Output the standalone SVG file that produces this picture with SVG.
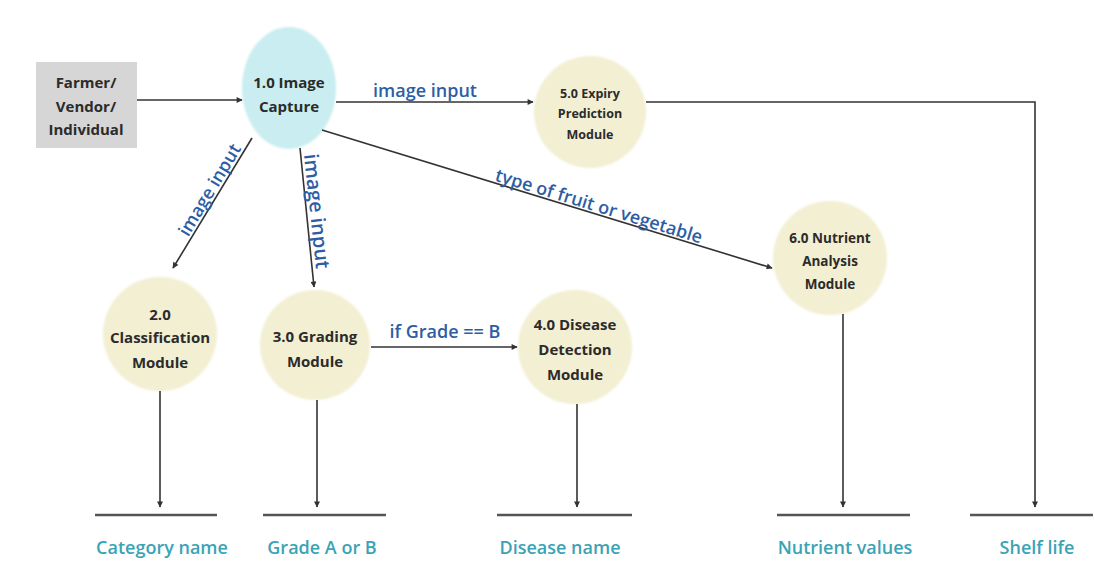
<svg xmlns="http://www.w3.org/2000/svg" width="1094" height="570" viewBox="0 0 1094 570">
<defs>
<marker id="ah" viewBox="0 0 10 10" refX="9" refY="5" markerWidth="7" markerHeight="6" orient="auto" markerUnits="userSpaceOnUse">
<path d="M0,0 L10,5 L0,10 z" fill="#333"/>
</marker>
<filter id="soft" x="-10%" y="-10%" width="120%" height="120%"><feGaussianBlur stdDeviation="1.2"/></filter>
</defs>
<style>
.node{fill:#f3efd3;filter:url(#soft)}
.cap{fill:#c9edf0;filter:url(#soft)}
.ext{fill:#d6d6d6}
.nt{font-family:"Open Sans",sans-serif;font-weight:700;font-size:15px;fill:#2b2b2b;text-anchor:middle}
.sm{font-size:12.5px}
.md{font-size:13.5px}
.lbl{font-family:"Open Sans",sans-serif;font-weight:600;font-size:18px;fill:#2d5ea5;text-anchor:middle}
.out{font-family:"Open Sans",sans-serif;font-weight:600;font-size:18px;fill:#3aa3b5;text-anchor:middle}
.ln{stroke:#333;stroke-width:1.6;fill:none}
.bar{stroke:#555;stroke-width:2.5}
</style>
<rect width="1094" height="570" fill="#ffffff"/>

<g id="farmer">
<rect class="ext" x="36" y="62" width="101" height="86"/>
<text class="nt" x="86" y="88">Farmer/</text>
<text class="nt" x="86" y="112">Vendor/</text>
<text class="nt" x="86" y="135">Individual</text>
</g>

<g id="n1">
<ellipse class="cap" cx="289" cy="88" rx="47" ry="61"/>
<text class="nt" x="289" y="88">1.0 Image</text>
<text class="nt" x="289" y="112">Capture</text>
</g>

<g id="n5">
<circle class="node" cx="590" cy="112" r="56"/>
<text class="nt sm" x="590" y="98">5.0 Expiry</text>
<text class="nt sm" x="590" y="118">Prediction</text>
<text class="nt sm" x="590" y="139">Module</text>
</g>

<g id="n2">
<circle class="node" cx="160" cy="334" r="57"/>
<text class="nt" x="160" y="320">2.0</text>
<text class="nt" x="160" y="343">Classification</text>
<text class="nt" x="160" y="368">Module</text>
</g>

<g id="n3">
<circle class="node" cx="315" cy="345" r="55"/>
<text class="nt" x="315" y="342">3.0 Grading</text>
<text class="nt" x="315" y="367">Module</text>
</g>

<g id="n4">
<circle class="node" cx="575" cy="347" r="57"/>
<text class="nt" x="575" y="330">4.0 Disease</text>
<text class="nt" x="575" y="355">Detection</text>
<text class="nt" x="575" y="380">Module</text>
</g>

<g id="n6">
<circle class="node" cx="830" cy="258" r="57"/>
<text class="nt md" x="830" y="243">6.0 Nutrient</text>
<text class="nt md" x="830" y="266">Analysis</text>
<text class="nt md" x="830" y="289">Module</text>
</g>

<g id="outputs">
<line class="bar" x1="95" y1="515" x2="217" y2="515"/>
<text class="out" x="162" y="554">Category name</text>
<line class="bar" x1="263" y1="515" x2="386" y2="515"/>
<text class="out" x="322" y="554">Grade A or B</text>
<line class="bar" x1="497" y1="515" x2="632" y2="515"/>
<text class="out" x="560" y="554">Disease name</text>
<line class="bar" x1="777" y1="515" x2="910" y2="515"/>
<text class="out" x="845" y="554">Nutrient values</text>
<line class="bar" x1="970" y1="515" x2="1093" y2="515"/>
<text class="out" x="1037" y="554">Shelf life</text>
</g>

<g id="connectors">
<line class="ln" x1="137" y1="100" x2="242" y2="100" marker-end="url(#ah)"/>
<line class="ln" x1="336" y1="102" x2="533" y2="102" marker-end="url(#ah)"/>
<polyline class="ln" points="646,102 1035,102 1035,507" marker-end="url(#ah)"/>
<line class="ln" x1="322" y1="130" x2="772" y2="268" marker-end="url(#ah)"/>
<line class="ln" x1="252" y1="138" x2="173" y2="268" marker-end="url(#ah)"/>
<line class="ln" x1="300" y1="148" x2="314" y2="287" marker-end="url(#ah)"/>
<line class="ln" x1="371" y1="347" x2="517" y2="347" marker-end="url(#ah)"/>
<line class="ln" x1="160" y1="391" x2="160" y2="507" marker-end="url(#ah)"/>
<line class="ln" x1="317" y1="400" x2="317" y2="507" marker-end="url(#ah)"/>
<line class="ln" x1="577" y1="404" x2="577" y2="507" marker-end="url(#ah)"/>
<line class="ln" x1="843" y1="314" x2="843" y2="507" marker-end="url(#ah)"/>
</g>

<g id="labels">
<text class="lbl" x="425" y="97">image input</text>
<text class="lbl" x="445" y="338">if Grade == B</text>
<text class="lbl" transform="translate(215,193) rotate(-59)" x="0" y="0">image input</text>
<text class="lbl" style="font-size:20px" transform="translate(310,212) rotate(84)" x="0" y="0">image input</text>
<text class="lbl" transform="translate(597,212) rotate(17)" x="0" y="0">type of fruit or vegetable</text>
</g>
</svg>
